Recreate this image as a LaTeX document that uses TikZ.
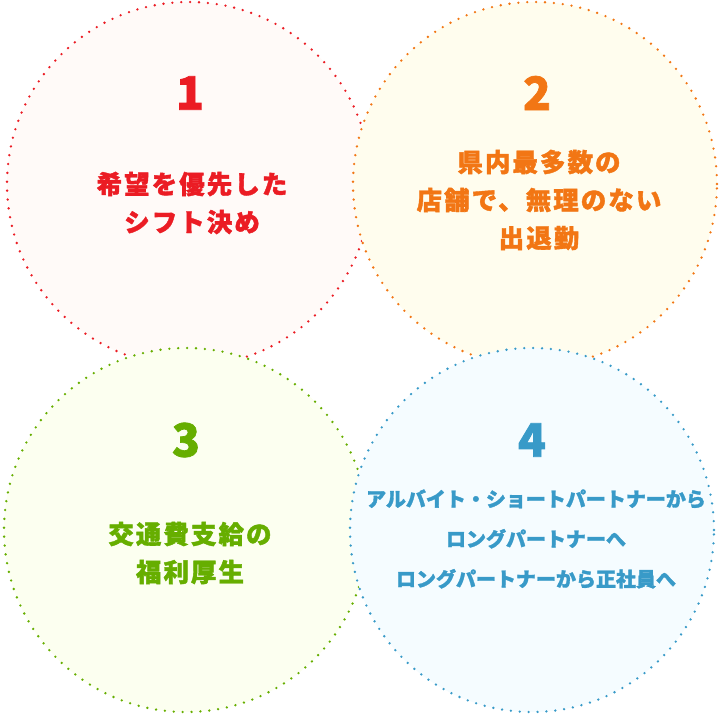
\documentclass[tikz,border=0pt]{standalone}
\usepackage{fontspec}
\newfontfamily\jpfont{Noto Sans CJK JP Black}[LetterSpace=8, FakeBold=1.5]
\newfontfamily\jpnarrow{Noto Sans CJK JP Black}[FakeBold=1.5]
\newfontfamily\numfont{Noto Sans CJK JP Black}[FakeBold=1.5]
\definecolor{redA}{RGB}{235,28,36}
\definecolor{orangeA}{RGB}{242,118,20}
\definecolor{greenA}{RGB}{102,174,0}
\definecolor{blueA}{RGB}{56,154,200}
\definecolor{redF}{RGB}{255,250,248}
\definecolor{orangeF}{RGB}{255,253,238}
\definecolor{greenF}{RGB}{252,255,240}
\definecolor{blueF}{RGB}{245,252,255}
\tikzset{
  circ/.style={circle, minimum size=364pt, inner sep=0pt, line width=2.6pt,
    line cap=round, dash pattern=on 0pt off 8.9pt},
  num/.style={font=\numfont\fontsize{46}{46}\selectfont},
  txt/.style={align=center, font=\jpfont\fontsize{25.5}{38}\selectfont},
  txtsmall/.style={align=center, font=\jpnarrow\fontsize{20}{40}\selectfont}
}

\begin{document}
\begin{tikzpicture}[x=1pt,y=-1pt]
\useasboundingbox (0,0) rectangle (720,714);
\node[circ, draw=redA, fill=redF] (c1) at (189,184) {};
\node[circ, draw=orangeA, fill=orangeF] (c2) at (535,184) {};
\node[circ, draw=greenA, fill=greenF] (c3) at (186,530) {};
\node[circ, draw=blueA, fill=blueF] (c4) at (532,530) {};
\node[num, text=redA] (n1) at (190,93) {1};
\node[num, text=orangeA] (n2) at (537,93) {2};
\node[num, text=greenA] (n3) at (186,440) {3};
\node[num, text=blueA] (n4) at (532,440) {4};
\node[txt, text=redA] (t1) at (192,203) {希望を優先した\\シフト決め};
\node[txt, text=orangeA] (t2) at (539,200) {県内最多数の\\店舗で、無理のない\\出退勤};
\node[txt, text=greenA] (t3) at (190,553) {交通費支給の\\福利厚生};
\node[txtsmall, text=blueA] (t4) at (536,539) {アルバイト・ショートパートナーから\\ロングパートナーへ\\ロングパートナーから正社員へ};
\end{tikzpicture}
\end{document}
